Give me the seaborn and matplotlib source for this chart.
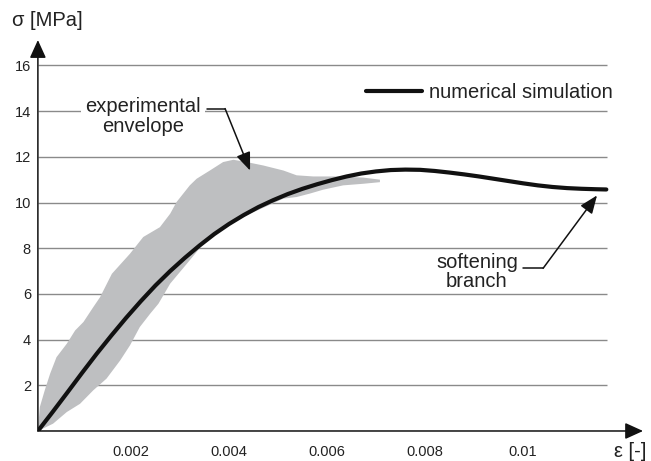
import numpy as np
import pandas as pd
import matplotlib
matplotlib.use("Agg")
import matplotlib.pyplot as plt
import seaborn as sns

# ---- data ----
sim_eps = [0.0001, 0.0004, 0.0007, 0.0010, 0.0013, 0.0016, 0.0019, 0.0022, 0.0025,
           0.0028, 0.0031, 0.0034, 0.0037, 0.0040, 0.0043, 0.0046, 0.0049, 0.0052,
           0.0055, 0.0058, 0.0061, 0.0064, 0.0067, 0.0070, 0.0073, 0.0076, 0.0079,
           0.0082, 0.0085, 0.0088, 0.0091, 0.0094, 0.0097, 0.0100, 0.0103, 0.0106,
           0.0109, 0.0112, 0.0115, 0.0117]
sim_sig = [0.0, 0.83, 1.68, 2.54, 3.38, 4.18, 4.95, 5.68, 6.37,
           7.00, 7.58, 8.12, 8.62, 9.06, 9.45, 9.80, 10.10, 10.37,
           10.60, 10.80, 10.98, 11.14, 11.27, 11.36, 11.42, 11.44, 11.43,
           11.38, 11.31, 11.23, 11.14, 11.04, 10.94, 10.84, 10.75, 10.68,
           10.63, 10.60, 10.58, 10.57]

env_upper_eps = [0.0001, 0.00014, 0.00024, 0.00035, 0.00048, 0.00069, 0.00086, 0.00103,
                 0.00123, 0.00137, 0.00161, 0.00198, 0.00225, 0.00259, 0.00280, 0.00293,
                 0.00320, 0.00334, 0.00361, 0.00388, 0.00409, 0.00436, 0.00470, 0.00511,
                 0.00538, 0.00572, 0.00620, 0.00674, 0.00708]
env_upper_sig = [0.0, 1.05, 1.78, 2.51, 3.23, 3.82, 4.40, 4.77,
                 5.42, 5.86, 6.88, 7.76, 8.49, 8.92, 9.51, 10.02,
                 10.75, 11.04, 11.40, 11.77, 11.87, 11.77, 11.62, 11.40,
                 11.19, 11.14, 11.14, 11.09, 11.00]
env_lower_eps = [0.0001, 0.00041, 0.00069, 0.00096, 0.00123, 0.00150, 0.00178, 0.00198,
                 0.00218, 0.00239, 0.00256, 0.00280, 0.00314, 0.00348, 0.00375, 0.00436,
                 0.00511, 0.00538, 0.00565, 0.00592, 0.00633, 0.00674, 0.00708]
env_lower_sig = [0.0, 0.32, 0.83, 1.19, 1.78, 2.29, 3.09, 3.75,
                 4.55, 5.13, 5.57, 6.45, 7.32, 8.20, 8.78, 9.44,
                 10.17, 10.24, 10.39, 10.56, 10.75, 10.82, 10.89]

x_major = [0.001, 0.002, 0.003, 0.004, 0.005, 0.006, 0.007, 0.008, 0.009, 0.010, 0.011]
x_labels = ["", "0.002", "", "0.004", "", "0.006", "", "0.008", "", "0.01", ""]
y_major = [2, 4, 6, 8, 10, 12, 14, 16]
y_labels = ["2", "4", "6", "8", "10", "12", "14", "16"]

sim_df = pd.DataFrame({"eps": sim_eps, "sig": sim_sig})

# ---- styling ----
sns.set_theme(style="white")
plt.rcParams["font.family"] = ["Liberation Sans", "DejaVu Sans"]

fig = plt.figure(figsize=(6.51, 4.61), dpi=100)
ax = fig.add_axes([0.0582, 0.0651, 0.8807, 0.8178])
ax.set_xlim(0.0001, 0.0118)
ax.set_ylim(0, 16.5)

# gridlines
ax.hlines(y_major, 0.0001, 0.01171, colors="#8a8a8a", linewidth=1.0, zorder=0)

# experimental envelope
poly_x = list(env_upper_eps) + list(env_lower_eps[::-1])
poly_y = list(env_upper_sig) + list(env_lower_sig[::-1])
ax.fill(poly_x, poly_y, color="#bebfc1", linewidth=0, zorder=1)

# numerical simulation
sns.lineplot(data=sim_df, x="eps", y="sig", sort=False, color="#111111",
             linewidth=3.0, ax=ax, zorder=3, label="numerical simulation")
for ln in ax.get_lines():
    ln.set_solid_joinstyle("round")
    ln.set_solid_capstyle("round")

# ticks
ax.set_xticks(x_major)
ax.set_xticklabels(x_labels)
ax.set_xticks(np.round(np.arange(0.0002, 0.01181, 0.0002), 5), minor=True)
ax.set_yticks(y_major)
ax.set_yticklabels(y_labels)
ax.set_yticks(np.round(np.arange(0.4, 15.61, 0.4), 2), minor=True)
ax.tick_params(axis="x", which="major", direction="out", length=7, width=1,
               color="#222222", pad=3, labelsize=10.5, labelcolor="#222222")
ax.tick_params(axis="x", which="minor", direction="out", length=3, width=1,
               color="#222222")
ax.tick_params(axis="y", which="major", direction="out", length=4, width=1,
               color="#222222", pad=1, labelsize=10.5, labelcolor="#222222")
ax.tick_params(axis="y", which="minor", direction="out", length=3, width=1,
               color="#222222")
ax.set_xlabel("")
ax.set_ylabel("")
for s in ax.spines.values():
    s.set_visible(False)

# axis lines with arrows
arrow_kw = dict(arrowstyle="-|>,head_length=0.55,head_width=0.25", color="#111111",
                lw=1.1, shrinkA=0, shrinkB=0, mutation_scale=20)
ax.annotate("", xy=(1.0555, 0), xytext=(0, 0), xycoords="axes fraction",
            textcoords="axes fraction", arrowprops=arrow_kw, annotation_clip=False)
ax.annotate("", xy=(0, 1.037), xytext=(0, 0), xycoords="axes fraction",
            textcoords="axes fraction", arrowprops=arrow_kw, annotation_clip=False)

# axis titles
fig.text(47 / 651, 1 - 20 / 461, "σ [MPa]", fontsize=14.5, color="#222222",
         ha="center", va="center")
fig.text(630 / 651, 1 - 451 / 461, "ε [-]", fontsize=14.5, color="#222222",
         ha="center", va="center")

# legend
ax.legend(loc="center left", bbox_to_anchor=(0.572, 0.8966), frameon=False,
          borderpad=0, borderaxespad=0, handlelength=2.8, handletextpad=0.35,
          fontsize=14.5, labelcolor="#222222")

# annotations
ax.text(0.002245, 13.75, "experimental\nenvelope", fontsize=14.5, color="#222222",
        ha="center", va="center", multialignment="center", linespacing=1.05,
        bbox=dict(facecolor="white", edgecolor="none", pad=3), zorder=4)
ax.plot([0.00355, 0.00392], [14.11, 14.11], color="#111111", lw=1.1, zorder=4)
ax.annotate("", xy=(0.00443, 11.40), xytext=(0.00392, 14.11),
            arrowprops=dict(arrowstyle="-|>,head_length=0.55,head_width=0.22",
                            color="#111111", lw=1.1, shrinkA=0, shrinkB=0,
                            mutation_scale=20), zorder=5)

ax.text(0.00906, 6.96, "softening\nbranch", fontsize=14.5, color="#222222",
        ha="center", va="center", multialignment="center", linespacing=1.05,
        zorder=4)
ax.plot([0.0100, 0.01041], [7.12, 7.12], color="#111111", lw=1.1, zorder=4)
ax.annotate("", xy=(0.01151, 10.31), xytext=(0.01041, 7.12),
            arrowprops=dict(arrowstyle="-|>,head_length=0.55,head_width=0.22",
                            color="#111111", lw=1.1, shrinkA=0, shrinkB=0,
                            mutation_scale=20), zorder=5)

fig.savefig("out.png", dpi=100)
